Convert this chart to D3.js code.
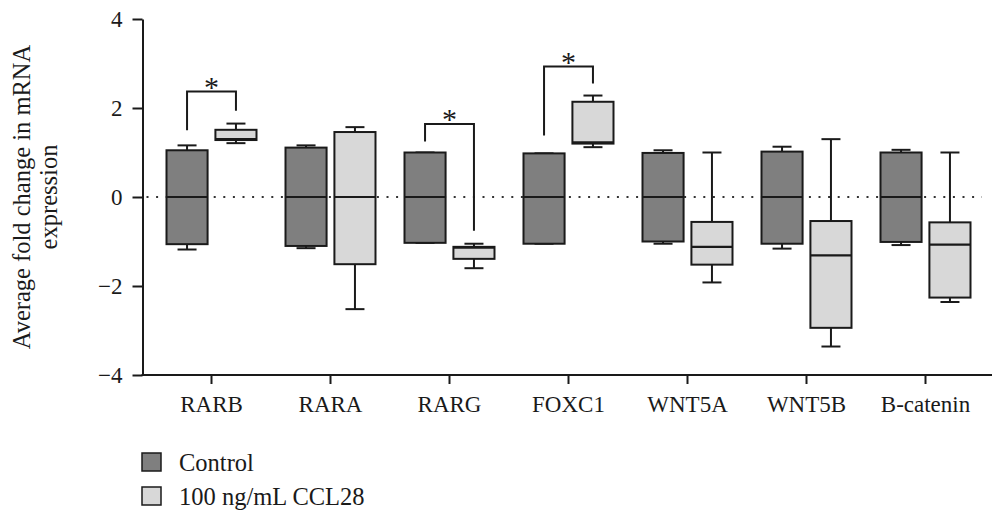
<!DOCTYPE html>
<html>
<head>
<meta charset="utf-8">
<script src="https://cdn.jsdelivr.net/npm/d3@7"></script>
<style>
    body { margin: 0; background: #fff; }
    svg text { font-family: "Liberation Serif", "Times New Roman", serif; fill: #1a1a1a; }
</style>
</head>
<body>
<div id="chart"></div>
<script>
// categories and groups
var genes = ["RARB", "RARA", "RARG", "FOXC1", "WNT5A", "WNT5B", "B-catenin"];
var groups = ["Control", "100 ng/mL CCL28"];

// box stats per gene: [min, q1, median, q3, max]
var controlStats = [
    [-1.18, -1.06, 0, 1.05, 1.16],
    [-1.15, -1.10, 0, 1.11, 1.16],
    [-1.03, -1.03, 0, 1.00, 1.00],
    [-1.05, -1.05, 0, 0.98, 0.98],
    [-1.05, -1.00, 0, 0.99, 1.05],
    [-1.16, -1.05, 0, 1.02, 1.13],
    [-1.08, -1.01, 0, 1.00, 1.06]
];
var ccl28Stats = [
    [1.21, 1.28, 1.30, 1.51, 1.65],
    [-2.52, -1.51, 0, 1.46, 1.57],
    [-1.60, -1.39, -1.14, -1.12, -1.05],
    [1.12, 1.20, 1.23, 2.14, 2.28],
    [-1.92, -1.52, -1.12, -0.56, 1.00],
    [-3.36, -2.94, -1.31, -0.54, 1.30],
    [-2.36, -2.26, -1.07, -0.57, 1.00]
];

// significance brackets: gene, left end, top, right end (data units)
var sigGenes = ["RARB", "RARG", "FOXC1"];
var sigLeft = [1.50, 1.25, 1.38];
var sigTop = [2.37, 1.64, 2.93];
var sigRight = [1.94, -0.76, 2.55];

var yTicks = [-4, -2, 0, 2, 4];
var colors = ["#7f7f7f", "#d8d8d8"];

// ============================================================
var width = 992, height = 515;
var ink = "#1a1a1a";

var svg = d3.select("#chart").append("svg")
    .attr("width", width)
    .attr("height", height);

var y = d3.scaleLinear().domain([-4, 4]).range([375, 19]);
var x = d3.scaleBand().domain(genes).range([152, 985]).padding(0);
var xg = d3.scaleBand().domain(groups).range([-45, 45]).paddingInner(0.16);

var axisX0 = 142.5;

// zero reference line
svg.append("line")
    .attr("x1", axisX0 + 4).attr("x2", 982)
    .attr("y1", y(0)).attr("y2", y(0))
    .attr("stroke", "#333")
    .attr("stroke-width", 2)
    .attr("stroke-dasharray", "2,7.6");

// y axis
var yAxis = svg.append("g")
    .attr("transform", "translate(" + axisX0 + ",0)")
    .call(d3.axisLeft(y).tickValues(yTicks).tickSize(10).tickSizeOuter(0).tickPadding(10)
        .tickFormat(function(d) { return d < 0 ? "\u2212" + Math.abs(d) : d; }));
yAxis.select(".domain").attr("stroke", ink).attr("stroke-width", 2);
yAxis.selectAll(".tick line").attr("stroke", ink).attr("stroke-width", 2);
yAxis.selectAll(".tick text").attr("font-size", 23).attr("fill", ink)
    .style("font-family", "Liberation Serif, serif");

// x axis
var xAxis = svg.append("g")
    .attr("transform", "translate(0," + y(-4) + ")")
    .call(d3.axisBottom(x).tickSize(9).tickSizeOuter(0).tickPadding(12));
xAxis.select(".domain").remove();
xAxis.append("line")
    .attr("x1", axisX0 - 1).attr("x2", width)
    .attr("stroke", ink).attr("stroke-width", 2);
xAxis.selectAll(".tick line").attr("stroke", ink).attr("stroke-width", 2);
xAxis.selectAll(".tick text").attr("font-size", 23).attr("fill", ink)
    .style("font-family", "Liberation Serif, serif");

// y axis title, two lines
var yTitle = svg.append("text")
    .attr("transform", "translate(0," + y(0) + ") rotate(-90)")
    .attr("text-anchor", "middle")
    .attr("font-size", 24.5);
yTitle.append("tspan").attr("x", 0).attr("y", 30).text("Average fold change in mRNA");
yTitle.append("tspan").attr("x", 0).attr("y", 57).text("expression");

// boxes
var boxes = [];
genes.forEach(function(g, i) {
    boxes.push({ gene: g, group: groups[0], s: controlStats[i], fill: colors[0] });
    boxes.push({ gene: g, group: groups[1], s: ccl28Stats[i], fill: colors[1] });
});

var bw = xg.bandwidth();
var capW = 19;

var box = svg.selectAll(".box")
    .data(boxes)
    .enter()
    .append("g")
    .attr("class", "box")
    .attr("transform", function(d) {
        return "translate(" + (x(d.gene) + x.bandwidth() / 2 + xg(d.group) + bw / 2) + ",0)";
    });

// whiskers
box.append("line")
    .attr("y1", function(d) { return y(d.s[4]); })
    .attr("y2", function(d) { return y(d.s[0]); })
    .attr("stroke", ink).attr("stroke-width", 2);
box.selectAll(".cap")
    .data(function(d) { return [d.s[0], d.s[4]]; })
    .enter()
    .append("line")
    .attr("class", "cap")
    .attr("x1", -capW / 2).attr("x2", capW / 2)
    .attr("y1", function(v) { return y(v); })
    .attr("y2", function(v) { return y(v); })
    .attr("stroke", ink).attr("stroke-width", 2);

box.append("rect")
    .attr("x", -bw / 2)
    .attr("width", bw)
    .attr("y", function(d) { return y(d.s[3]); })
    .attr("height", function(d) { return y(d.s[1]) - y(d.s[3]); })
    .attr("fill", function(d) { return d.fill; })
    .attr("stroke", ink).attr("stroke-width", 2);

box.append("line")
    .attr("x1", -bw / 2).attr("x2", bw / 2)
    .attr("y1", function(d) { return y(d.s[2]); })
    .attr("y2", function(d) { return y(d.s[2]); })
    .attr("stroke", ink).attr("stroke-width", 2.2);

// significance brackets
sigGenes.forEach(function(g, i) {
    var xl = x(g) + x.bandwidth() / 2 + xg(groups[0]) + bw / 2;
    var xr = x(g) + x.bandwidth() / 2 + xg(groups[1]) + bw / 2;
    svg.append("path")
        .attr("d", d3.line()([[xl, y(sigLeft[i])], [xl, y(sigTop[i])], [xr, y(sigTop[i])], [xr, y(sigRight[i])]]))
        .attr("fill", "none")
        .attr("stroke", ink).attr("stroke-width", 2);
    svg.append("text")
        .attr("x", (xl + xr) / 2)
        .attr("y", y(sigTop[i]) + 5)
        .attr("text-anchor", "middle")
        .attr("font-size", 30)
        .text("*");
});

// legend
var legend = svg.selectAll(".legend")
    .data(groups)
    .enter()
    .append("g")
    .attr("class", "legend")
    .attr("transform", function(d, i) { return "translate(142," + (453 + i * 34) + ")"; });
legend.append("rect")
    .attr("width", 19).attr("height", 18)
    .attr("fill", function(d, i) { return colors[i]; })
    .attr("stroke", ink).attr("stroke-width", 1.5);
legend.append("text")
    .attr("x", 37).attr("y", 18)
    .attr("font-size", 24.5)
    .text(function(d) { return d; });
</script>
</body>
</html>
